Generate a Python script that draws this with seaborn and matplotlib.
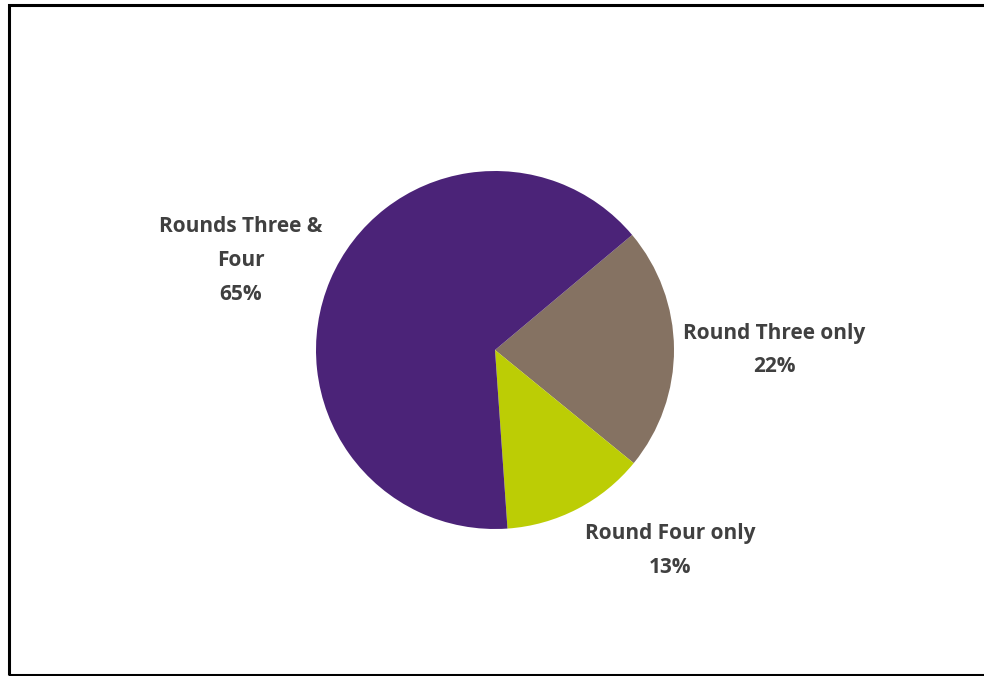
import matplotlib
matplotlib.use('Agg')
import matplotlib.pyplot as plt
import seaborn as sns
from matplotlib.patches import Rectangle

# Data
categories = ['Round Three only', 'Round Four only', 'Rounds Three &\nFour']
shares = [22, 13, 65]
colors = ['#857262', '#BCCD05', '#4B2378']

sns.set_style('white')
plt.rcParams['font.family'] = ['Open Sans', 'DejaVu Sans']

W, H = 984, 676
fig = plt.figure(figsize=(W / 100, H / 100), dpi=100)

# pie centre / radius in pixels
cx, cy, r = 495, 350, 179
ax = fig.add_axes([(cx - r) / W, (H - cy - r) / H, 2 * r / W, 2 * r / H])
wedges, texts = ax.pie(shares, colors=colors, startangle=40, counterclock=False,
                       labels=[f'{c}\n{v}%' for c, v in zip(categories, shares)],
                       wedgeprops=dict(linewidth=0))
ax.set_xlim(-1, 1)
ax.set_ylim(-1, 1)

# label placement (data coords)
label_pos = [(1.56, 0.0), (0.98, -1.12), (-1.42, 0.5)]
for t, (x, y) in zip(texts, label_pos):
    t.set_position((x, y))
    t.set_ha('center')
    t.set_va('center')
    t.set_fontsize(15)
    t.set_fontweight('bold')
    t.set_color('#404040')
    t.set_linespacing(1.8)

# outer frame (right side runs off the image)
fig.patches.append(Rectangle((9 / W, 1 - 674.5 / H), 1.0, (674.5 - 4.5) / H,
                             transform=fig.transFigure, fill=False,
                             edgecolor='black', linewidth=2.2))

fig.savefig('out.png', dpi=100)
